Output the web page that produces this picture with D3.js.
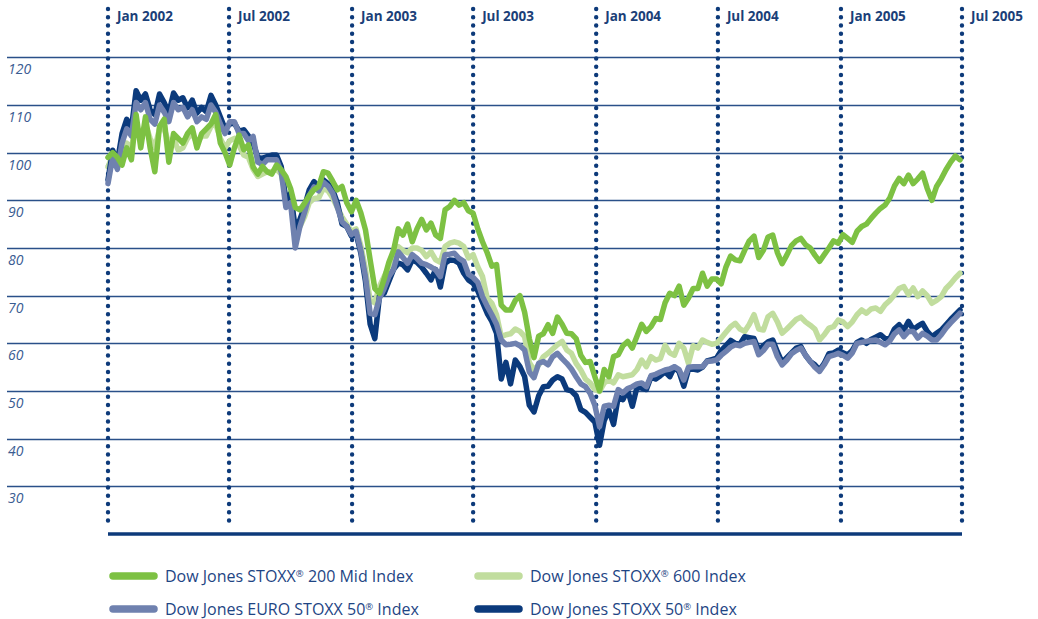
<!DOCTYPE html>
<html>
<head>
<meta charset="utf-8">
<script src="https://cdn.jsdelivr.net/npm/d3@7"></script>
<style>
  body { margin: 0; background: #fff; }
  #svg-container { width: 1038px; height: 619px; }
  text { font-family: "Open Sans", "Noto Sans", sans-serif; }
</style>
</head>
<body>
<div id="svg-container"></div>
<script>
////////////////////////////////////////////////////////////////////
////////////////////////////  Data  ////////////////////////////////
// weekly closes, index rebased to 100 at start of 2002
const startDate = new Date(2002, 0, 1);

const mid200 = [
  99, 100, 99, 97.4, 101, 98.5, 108, 101, 107.5, 101,
  96, 105.5, 107, 98, 104, 103, 102, 104, 105.2, 101,
  104, 105, 106, 108, 102, 100, 97.4, 101, 103.7, 100.6,
  101.6, 97, 95.5, 97.1, 96, 95.5, 97.4, 96.4, 95, 92.5,
  88.5, 88, 89.4, 91, 92.2, 92.9, 96, 95.7, 94, 92.2,
  92.9, 89.5, 87.6, 90, 87.4, 83.8, 77.5, 71.5, 70.5, 73.5,
  77, 79.5, 84, 82.7, 85, 81.3, 84, 86, 83.8, 85.2,
  82.7, 82, 88, 88.7, 90, 89, 89.5, 87.8, 87.3, 84,
  81.3, 79, 76.2, 76.5, 68, 67, 67, 69, 70, 66.5,
  61, 57, 61.5, 62, 63.9, 62.1, 65.5, 64, 62.1, 62,
  61, 57.5, 56, 56.2, 53, 50, 54.5, 53, 57.2, 57.6,
  59.5, 60.4, 59, 61.5, 64, 62.5, 63.5, 65.2, 65, 68.5,
  70.5, 70, 72, 68, 69.5, 71.5, 71.5, 74.7, 72, 73.5,
  73.5, 72.5, 76, 78.3, 77.5, 77.3, 79.5, 81.5, 82.5, 78,
  79.5, 82.3, 82.7, 79, 76.7, 78.5, 80.5, 81.5, 82, 80.7,
  80, 78.5, 77.2, 78.6, 80, 81.5, 81, 82.8, 82, 81.2,
  83.5, 84.5, 85, 86.2, 87.3, 88.3, 89, 90.5, 93, 94.6,
  93.5, 95.3, 93.5, 94.5, 95.7, 92.5, 90, 92.9, 94.5, 96.4,
  98, 99.3, 98.5
];

const stoxx600 = [
  97, 99.5, 98, 99, 102, 101, 106, 103, 106, 103,
  101, 105, 105, 102, 103, 100.5, 101, 103, 104, 102,
  103.5, 103.5, 105.5, 106, 103, 101, 102.5, 103, 101.5, 99.5,
  99, 96.5, 95, 95.5, 96, 96, 96.5, 95.5, 91, 90.8,
  84, 84.5, 86.6, 89.5, 90.4, 90.5, 92.5, 92, 90.5, 88.5,
  86.5, 85, 83.5, 84, 80.5, 75.5, 69, 68.5, 72, 74,
  76, 78.9, 80.3, 79.5, 79, 80, 80, 79.5, 78.2, 79.2,
  77.5, 77, 80.3, 81, 81.3, 81, 80.3, 77.9, 78.6, 76,
  74, 69.5, 68.4, 66, 61.4, 61.8, 62, 63, 62.5, 61.4,
  56, 54.4, 55.5, 57.2, 57.9, 58.8, 59.7, 60.4, 58.6, 57.9,
  55.8, 54.4, 52.5, 51.7, 50.3, 49.9, 51.7, 52.3, 51.7, 53.4,
  53, 53.2, 53.4, 54.5, 56.5, 55.1, 57.2, 56.5, 56.8, 59.6,
  58, 57.5, 60, 59, 55.8, 59.5, 59, 60.7, 60.2, 59.8,
  60, 61.1, 62.3, 63.5, 64.2, 63, 62.5, 64, 66, 63,
  62.8, 65.6, 66.3, 64.5, 62.1, 63, 64, 65, 65.5, 64.5,
  63.8, 63, 60.7, 61.8, 63.2, 63.5, 64.9, 64.5, 63.5, 64.5,
  66, 67, 66.3, 67.2, 67.4, 66.7, 68.1, 69, 70.2, 71.5,
  71.9, 70.2, 71.6, 69.8, 71, 70, 68.4, 69, 69.8, 71.5,
  72.5, 73.7, 74.7
];

const euroStoxx50 = [
  93.5, 99, 96.5, 102, 105, 103.5, 110.5, 109, 110.5, 107,
  106, 110, 108.5, 106.5, 110.5, 109, 109.5, 107.5, 109, 106.5,
  107.5, 107, 110, 108.5, 106, 104, 106.5, 106.5, 104, 104,
  102.5, 103.4, 98, 97.5, 98.5, 98.5, 98.5, 96, 88.5, 89.5,
  80, 84.5, 87.5, 91, 92.8, 92, 93.8, 93, 91.5, 88.5,
  85.5, 84.5, 82.8, 83.5, 79.5, 74, 66.3, 66, 69.5, 71.5,
  74, 75.5, 79.2, 78, 76.8, 78.6, 77.8, 76.8, 76.5, 76,
  75.4, 74, 78.6, 78.7, 78.9, 77.8, 77.2, 74.5, 73.8, 72.8,
  69.8, 67.8, 66, 64, 60.7, 59.7, 59.8, 60, 59.5, 58.6,
  54, 52.8, 55.8, 56.2, 55.5, 57.2, 57.9, 56.8, 55.8, 54.6,
  53, 51.5, 50.9, 49.5, 47, 42.5, 46.8, 47, 46.8, 50.3,
  49.6, 50.5, 50.9, 51.5, 51.7, 50.9, 53.2, 53.5, 54, 54.4,
  54.6, 55.1, 54.5, 52.3, 55, 55.1, 55.1, 55.1, 56.2, 56.3,
  56.5, 57.5, 58.3, 59.2, 59.7, 59.5, 60, 60.2, 60.4, 57.6,
  58.5, 59.8, 59.8, 57.2, 55.5, 56.5, 57.8, 58.5, 59, 57.5,
  56.2, 55, 54.1, 55.5, 57.2, 57.5, 57.9, 57.5, 56.9, 58,
  60, 60.2, 60.4, 60.6, 60.7, 60.2, 59.7, 60.5, 62, 62.8,
  61.4, 62.5, 62.5, 61.1, 62.1, 61.5, 60.7, 60.7, 61.8, 63.2,
  64.3, 65.3, 66.3
];

const stoxx50 = [
  94.3, 100.5, 98, 104, 107, 105, 113, 111, 112.3, 109,
  108, 112.3, 110.5, 108.3, 112.5, 111, 111.5, 109.4, 111, 108.3,
  109.5, 108.6, 112, 110, 107.5, 105, 106, 106.2, 104.5, 104.8,
  103.5, 102, 99, 98.8, 99.2, 99.5, 99.5, 97.1, 90, 91.5,
  84, 86, 88.7, 92.2, 93.9, 92.9, 94.3, 93.5, 92.2, 89.4,
  85, 84.5, 82.5, 83, 79, 73, 64, 61, 70, 70.5,
  73, 75.5, 76.8, 76.5, 75.4, 77.5, 77, 76, 74.7, 73.3,
  75.5, 71.8, 76.8, 77.5, 77.4, 76.8, 74.7, 73.3, 72.6, 71,
  68.6, 66.3, 64.6, 62.1, 52.5, 56, 51.5, 56.5, 55.1, 53,
  47, 45.6, 49, 50.9, 51, 52.3, 53, 52.5, 50.3, 50,
  49, 46.1, 45.5, 44.5, 43.5, 38.6, 43.8, 46, 43, 48.8,
  48.2, 50.2, 46.8, 50.8, 50.6, 50.3, 53, 52.5, 53.2, 54,
  53, 55, 54, 51, 54.5, 54.6, 54.4, 55, 56.3, 56.6,
  56.9, 58.5, 59.5, 60.6, 60, 59.8, 61.4, 61.2, 61, 58.6,
  59.5, 60.3, 60.7, 58.2, 56, 57, 58, 59, 59.3, 57.5,
  56.2, 55.5, 54.4, 55.8, 57.8, 58, 58.6, 58, 57.6, 58.5,
  60.2, 60.7, 60, 60.8, 61.3, 61.8, 61, 60.9, 63, 63.9,
  62.8, 64.6, 62.9, 63.6, 64.2, 62.5, 61.4, 62.1, 62.8, 63.9,
  65, 66, 67
];

const yTicks = [30, 40, 50, 60, 70, 80, 90, 100, 110, 120];
const monthTicks = ["Jan 2002", "Jul 2002", "Jan 2003", "Jul 2003", "Jan 2004", "Jul 2004", "Jan 2005", "Jul 2005"];

// drawing order: back to front
const seriesList = [
  { name: "Dow Jones STOXX® 600 Index", values: stoxx600, color: "#c1dd9e" },
  { name: "Dow Jones STOXX 50® Index", values: stoxx50, color: "#0b3a7c" },
  { name: "Dow Jones EURO STOXX 50® Index", values: euroStoxx50, color: "#6f81af" },
  { name: "Dow Jones STOXX® 200 Mid Index", values: mid200, color: "#7dc143" }
];

const legendOrder = [3, 0, 2, 1];

////////////////////////////////////////////////////////////////////
////////////////////////////  Init  ////////////////////////////////
const width = 1038;
const height = 619;

const svg = d3.select("#svg-container").append("svg")
  .attr("width", width)
  .attr("height", height);

const parseTick = d3.timeParse("%b %Y");
const tickDates = monthTicks.map(parseTick);

const xScale = d3.scaleTime()
  .domain([tickDates[0], tickDates[tickDates.length - 1]])
  .range([108, 962]);

const yScale = d3.scaleLinear()
  .domain([20, 120])
  .range([534, 57.3]);

const navy = "#0d3a7a";

// horizontal grid
svg.append("g")
  .selectAll("line")
  .data(yTicks)
  .join("line")
  .attr("x1", 7)
  .attr("x2", 962)
  .attr("y1", (d) => Math.round(yScale(d)) + 0.5)
  .attr("y2", (d) => Math.round(yScale(d)) + 0.5)
  .attr("stroke", "#2a5089")
  .attr("stroke-width", 1.3);

svg.append("g")
  .selectAll("text")
  .data(yTicks)
  .join("text")
  .attr("x", 8)
  .attr("y", (d) => yScale(d) + 17)
  .attr("font-size", 14)
  .attr("font-style", "italic")
  .attr("fill", "#3a5c92")
  .text((d) => d);

// dotted month lines
svg.append("g")
  .selectAll("line")
  .data(tickDates)
  .join("line")
  .attr("x1", (d) => xScale(d))
  .attr("x2", (d) => xScale(d))
  .attr("y1", 9)
  .attr("y2", 528)
  .attr("stroke", navy)
  .attr("stroke-width", 4.4)
  .attr("stroke-linecap", "round")
  .attr("stroke-dasharray", "0 8.25");

svg.append("g")
  .selectAll("text")
  .data(tickDates)
  .join("text")
  .attr("x", (d) => xScale(d) + 9)
  .attr("y", 21)
  .attr("font-size", 13.5)
  .attr("font-weight", "bold")
  .attr("fill", "#1b3f78")
  .text((d, i) => monthTicks[i]);

// bottom axis
svg.append("line")
  .attr("x1", xScale(tickDates[0]))
  .attr("x2", xScale(tickDates[tickDates.length - 1]))
  .attr("y1", yScale(20))
  .attr("y2", yScale(20))
  .attr("stroke", navy)
  .attr("stroke-width", 3.5);

////////////////////////////////////////////////////////////////////
////////////////////////////  Lines  ///////////////////////////////
const line = d3.line()
  .x((d, i) => xScale(d3.timeDay.offset(startDate, 7 * i)))
  .y((d) => yScale(d));

svg.append("g")
  .selectAll("path")
  .data(seriesList)
  .join("path")
  .attr("d", (d) => line(d.values))
  .attr("fill", "none")
  .attr("stroke", (d) => d.color)
  .attr("stroke-width", 5.5)
  .attr("stroke-linejoin", "round")
  .attr("stroke-linecap", "round");

////////////////////////////////////////////////////////////////////
////////////////////////////  Legend  //////////////////////////////
const legendPos = [
  { x: 110, y: 576 },
  { x: 475, y: 576 },
  { x: 110, y: 609 },
  { x: 475, y: 609 }
];

const legend = svg.append("g")
  .selectAll("g")
  .data(legendOrder.map((k) => seriesList[k]))
  .join("g")
  .attr("transform", (d, i) => `translate(${legendPos[i].x}, ${legendPos[i].y})`);

legend.append("line")
  .attr("x1", 3)
  .attr("x2", 44)
  .attr("stroke", (d) => d.color)
  .attr("stroke-width", 7.5)
  .attr("stroke-linecap", "round");

legend.append("text")
  .attr("x", 55)
  .attr("y", 6)
  .attr("font-size", 16)
  .attr("fill", "#1e4584")
  .each(function (d) {
    const parts = d.name.split("®");
    const t = d3.select(this);
    t.append("tspan").text(parts[0]);
    t.append("tspan").attr("font-size", 9.5).attr("dy", -5).text("®");
    t.append("tspan").attr("dy", 5).text(parts[1]);
  });
</script>
</body>
</html>
